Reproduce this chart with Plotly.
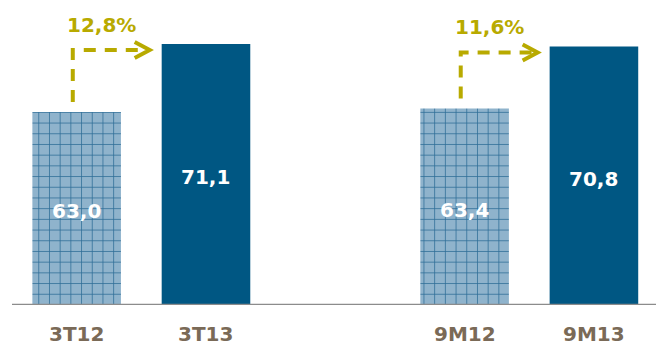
import plotly.graph_objects as go

# Quarter (3T) and nine-month (9M) comparison
categories = ["3T12", "3T13", "9M12", "9M13"]
values = [63.0, 71.1, 63.4, 70.8]
value_labels = ["63,0", "71,1", "63,4", "70,8"]
growth_labels = ["12,8%", "11,6%"]

# slot positions on the x axis (an empty slot separates the two periods)
x_pos = [0, 1, 3, 4]
bar_width = 0.685

LIGHT = "#8fb3cc"
GRID = "#2f6d97"
DARK = "#005783"
OLIVE = "#b8aa00"
LABEL = "#7a6a57"
FONT = "DejaVu Sans"

fig = go.Figure()

# prior-period bars (hatched) and current-period bars (solid)
prior_idx = [0, 2]
curr_idx = [1, 3]
fig.add_trace(go.Bar(
    x=[x_pos[i] for i in prior_idx],
    y=[values[i] for i in prior_idx],
    width=bar_width,
    marker=dict(
        color=LIGHT,
        line=dict(width=0),
        pattern=dict(shape="+", size=10.7, solidity=0.14,
                     fgcolor=GRID, bgcolor=LIGHT, fillmode="replace"),
    ),
    hoverinfo="skip",
))
fig.add_trace(go.Bar(
    x=[x_pos[i] for i in curr_idx],
    y=[values[i] for i in curr_idx],
    width=bar_width,
    marker=dict(color=DARK, line=dict(width=0)),
    hoverinfo="skip",
))

y_min, y_max = 40, 76.33
px_per_unit_y = 305 / (y_max - y_min)
px_per_unit_x = 644 / 4.98

shapes = []
annotations = []

# value labels centred in the visible part of each bar
for xp, v, lab in zip(x_pos, values, value_labels):
    annotations.append(dict(
        x=xp, y=(y_min + v) / 2, xref="x", yref="y", yshift=-3,
        text=lab, showarrow=False,
        font=dict(family=FONT, size=20, color="white", weight="bold"),
        xanchor="center", yanchor="middle",
    ))

for k, (a, b) in enumerate([(0, 1), (2, 3)]):
    xa = x_pos[a] - 0.03
    y_start = values[a] + 10 / px_per_unit_y
    y_line = max(values[a], values[b]) - 6 / px_per_unit_y
    x_tip = x_pos[b] - bar_width / 2 - 12 / px_per_unit_x
    # dashed elbow connector
    shapes.append(dict(
        type="path", xref="x", yref="y",
        path=f"M {xa},{y_start} L {xa},{y_line} L {x_tip - 2 / px_per_unit_x},{y_line}",
        line=dict(color=OLIVE, width=4, dash="12px,9px"),
    ))
    # open arrow head
    hw = 15 / px_per_unit_x
    hh = 8 / px_per_unit_y
    shapes.append(dict(
        type="path", xref="x", yref="y",
        path=f"M {x_tip - hw},{y_line + hh} L {x_tip},{y_line} L {x_tip - hw},{y_line - hh}",
        line=dict(color=OLIVE, width=4),
    ))
    annotations.append(dict(
        x=x_pos[a] + 25 / px_per_unit_x, y=y_line, xref="x", yref="y",
        yshift=25, text=growth_labels[k], showarrow=False,
        font=dict(family=FONT, size=20, color=OLIVE, weight="bold"),
        xanchor="center", yanchor="middle",
    ))

# category labels under the axis
for xp, cat in zip(x_pos, categories):
    annotations.append(dict(
        x=xp, y=y_min, xref="x", yref="y", yshift=-29,
        text=cat, showarrow=False,
        font=dict(family=FONT, size=20, color=LABEL, weight="bold"),
        xanchor="center", yanchor="middle",
    ))

fig.update_layout(
    width=656, height=347,
    margin=dict(l=12, r=0, t=0, b=42),
    paper_bgcolor="white", plot_bgcolor="white",
    showlegend=False, barmode="overlay",
    shapes=shapes, annotations=annotations,
    xaxis=dict(range=[-0.5, 4.48], showticklabels=False, showgrid=False,
               zeroline=False, showline=False, ticks="", fixedrange=True),
    yaxis=dict(range=[y_min, y_max], visible=False, fixedrange=True),
)
# baseline
fig.add_shape(type="line", xref="paper", yref="y", x0=0, x1=1, y0=y_min, y1=y_min,
              line=dict(color="#8c8c8c", width=2.5), layer="above")

fig.write_html("out.html", config={"displayModeBar": False})
